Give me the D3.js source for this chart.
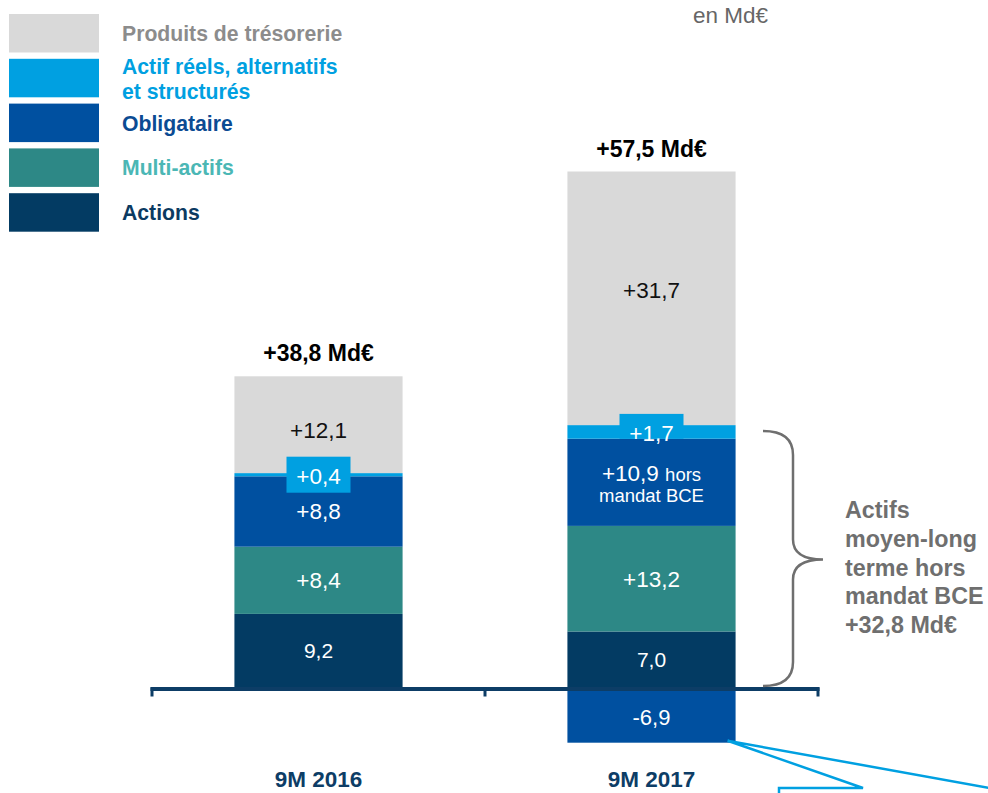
<!DOCTYPE html>
<html><head><meta charset="utf-8">
<script src="https://cdn.jsdelivr.net/npm/d3@7"></script>
<style>
body{margin:0;background:#fff}
svg{display:block}
text{font-family:"Liberation Sans",Arial,Helvetica,sans-serif}
</style>
</head><body>
<svg id="chart" width="988" height="793"></svg>
<script>
// ---------- data ----------
const categories = ["9M 2016", "9M 2017"];
const seriesNames = ["Actions", "Multi-actifs", "Obligataire", "Actif réels, alternatifs et structurés", "Produits de trésorerie"];
const actions     = [9.2, 7.0];
const multiActifs = [8.4, 13.2];
const obligataire = [8.8, 10.9];
const actifsReels = [0.4, 1.7];
const tresorerie  = [12.1, 31.7];
const mandatBCE   = [0, -6.9];          // negative part (mandat BCE), 9M 2017 only
const totals      = [38.8, 57.5];
const bracketTotal = 32.8;
const unitLabel = "en Md€";
const bracketLines = ["Actifs", "moyen-long", "terme hors", "mandat BCE"];
const legendOrder = ["Produits de trésorerie", "Actif réels, alternatifs et structurés", "Obligataire", "Multi-actifs", "Actions"];
const legendLines = [["Produits de trésorerie"], ["Actif réels, alternatifs", "et structurés"], ["Obligataire"], ["Multi-actifs"], ["Actions"]];

// ---------- style ----------
const fill = {
  "Actions": "#033b63",
  "Multi-actifs": "#2d8886",
  "Obligataire": "#0050a0",
  "Actif réels, alternatifs et structurés": "#00a0e1",
  "Produits de trésorerie": "#d9d9d9"
};
const legendTextColor = {
  "Actions": "#0b3a61",
  "Multi-actifs": "#4bb7b5",
  "Obligataire": "#0b4b93",
  "Actif réels, alternatifs et structurés": "#00a0e1",
  "Produits de trésorerie": "#8c8c8c"
};
const axisColor = "#0d3d66";
const gray = "#6f6f6f";

const svg = d3.select("#chart");

// ---------- scales ----------
const x = d3.scaleBand().domain(categories).range([152, 818]).padding(0);
const barW = x.bandwidth() * 0.505;
const y = d3.scaleLinear().domain([-8, 66]).range([687.5 + 64, 687.5 - 528]);

const table = categories.map((c, i) => ({
  cat: c,
  "Actions": actions[i],
  "Multi-actifs": multiActifs[i],
  "Obligataire": obligataire[i],
  "Actif réels, alternatifs et structurés": actifsReels[i],
  "Produits de trésorerie": tresorerie[i]
}));
const stacked = d3.stack().keys(seriesNames)(table);

const fmt = (v, sign) => (v < 0 ? "-" : (sign ? "+" : "")) + d3.format(".1f")(Math.abs(v)).replace(".", ",");

// ---------- bars ----------
const gBars = svg.append("g");
stacked.forEach(layer => {
  gBars.selectAll(null).data(layer).enter().append("rect")
    .attr("x", d => x(d.data.cat) + (x.bandwidth() - barW) / 2)
    .attr("width", barW)
    .attr("y", d => y(d[1]))
    .attr("height", d => y(d[0]) - y(d[1]))
    .attr("fill", fill[layer.key]);
});
// negative part (mandat BCE)
gBars.selectAll(null).data(categories.map((c, i) => ({cat: c, v: mandatBCE[i]})).filter(d => d.v < 0))
  .enter().append("rect")
  .attr("x", d => x(d.cat) + (x.bandwidth() - barW) / 2)
  .attr("width", barW)
  .attr("y", y(0))
  .attr("height", d => y(d.v) - y(0))
  .attr("fill", fill["Obligataire"]);

// ---------- value labels ----------
const gLab = svg.append("g").attr("text-anchor", "middle");
stacked.forEach(layer => {
  layer.forEach((d, i) => {
    const cx = x(d.data.cat) + x.bandwidth() / 2;
    let cy = (y(d[0]) + y(d[1])) / 2;
    const v = d[1] - d[0];
    const key = layer.key;
    if (key === "Actif réels, alternatifs et structurés") {
      const bTop = cy - 18;
      const h = i === 0 ? 36 : y(d[0]) - bTop;
      gLab.append("rect").attr("x", cx - 32).attr("y", bTop).attr("width", 64).attr("height", h)
        .attr("fill", fill[key]);
      gLab.append("text").attr("x", cx).attr("y", cy + 1.5).attr("dy", "0.35em")
        .attr("font-size", 22.5).attr("fill", "#fff").text(fmt(v, true));
    } else if (key === "Obligataire" && mandatBCE[i] < 0) {
      const t = gLab.append("text").attr("x", cx).attr("y", cy - 9.5).attr("dy", "0.35em")
        .attr("font-size", 22.5).attr("fill", "#fff");
      t.append("tspan").text(fmt(v, true) + " ");
      t.append("tspan").attr("font-size", 18.5).text("hors");
      gLab.append("text").attr("x", cx).attr("y", cy + 13).attr("dy", "0.35em")
        .attr("font-size", 18.5).attr("fill", "#fff").text("mandat BCE");
    } else {
      if (key === "Produits de trésorerie") cy += (i === 0 ? 5 : -8);
      gLab.append("text").attr("x", cx).attr("y", cy).attr("dy", "0.35em")
        .attr("font-size", key === "Actions" ? 21 : 22.5)
        .attr("fill", key === "Produits de trésorerie" ? "#111" : "#fff")
        .text(fmt(v, key !== "Actions"));
    }
  });
});
categories.forEach((c, i) => {
  if (mandatBCE[i] < 0) {
    gLab.append("text").attr("x", x(c) + x.bandwidth() / 2).attr("y", (y(0) + y(mandatBCE[i])) / 2 + 2)
      .attr("dy", "0.35em").attr("font-size", 22).attr("fill", "#fff").text(fmt(mandatBCE[i], false));
  }
});

// totals
const topLayer = stacked[stacked.length - 1];
svg.append("g").selectAll("text").data(topLayer).enter().append("text")
  .attr("x", d => x(d.data.cat) + x.bandwidth() / 2)
  .attr("y", d => y(d[1]) - 15)
  .attr("text-anchor", "middle").attr("font-weight", "bold").attr("font-size", 23).attr("fill", "#000")
  .text((d, i) => fmt(totals[i], true) + " Md€");

// ---------- axis ----------
const ax = svg.append("g");
const x0 = x.range()[0], x1 = x.range()[1];
ax.append("line").attr("x1", x0 - 1.5).attr("x2", x1 + 1.5).attr("y1", y(0) + 1.5).attr("y2", y(0) + 1.5)
  .attr("stroke", axisColor).attr("stroke-width", 4);
const boundaries = categories.map(c => x(c)).concat([x1]);
ax.selectAll(".tick").data(boundaries).enter().append("line")
  .attr("x1", d => d).attr("x2", d => d).attr("y1", y(0)).attr("y2", y(0) + 9)
  .attr("stroke", axisColor).attr("stroke-width", 3);
ax.selectAll(".cat").data(categories).enter().append("text")
  .attr("x", d => x(d) + x.bandwidth() / 2).attr("y", 787)
  .attr("text-anchor", "middle").attr("font-weight", "bold").attr("font-size", 22.5).attr("fill", axisColor)
  .text(d => d);

// ---------- legend ----------
const lg = svg.append("g");
legendOrder.forEach((k, i) => {
  const sTop = 14 + i * 44.8;
  lg.append("rect").attr("x", 9).attr("y", sTop).attr("width", 90).attr("height", 38.5).attr("fill", fill[k]);
  const lines = legendLines[i];
  const cy = sTop + 19;
  lines.forEach((ln, j) => {
    const by = lines.length === 1 ? cy + 8 : cy - 4 + j * 25;
    lg.append("text").attr("x", 122).attr("y", by).attr("font-weight", "bold").attr("font-size", 21.2)
      .attr("fill", legendTextColor[k]).text(ln);
  });
});

// unit
svg.append("text").attr("x", 693).attr("y", 23).attr("font-size", 22.5).attr("fill", "#666").text(unitLabel);

// ---------- bracket ----------
const bx = 763, bs = 793, bp = 823;
const brTop = y(bracketTotal) + 6, brBot = y(0) - 1.5;
const brMid = (brTop + brBot) / 2 + 1;
const bPath = `M${bx},${brTop} Q${bs},${brTop} ${bs},${brTop + 24} L${bs},${brMid - 20} Q${bs},${brMid} ${bp},${brMid}` +
  ` Q${bs},${brMid} ${bs},${brMid + 20} L${bs},${brBot - 24} Q${bs},${brBot} ${bx},${brBot}`;
svg.append("path").attr("d", bPath).attr("fill", "none").attr("stroke", gray).attr("stroke-width", 2.5);
const bt = svg.append("g");
bracketLines.concat([fmt(bracketTotal, true) + " Md€"]).forEach((ln, j) => {
  bt.append("text").attr("x", 845).attr("y", 518 + j * 28.8).attr("font-weight", "bold").attr("font-size", 23.3)
    .attr("fill", gray).text(ln);
});

// ---------- callout lines ----------
const negX = x(categories[1]) + (x.bandwidth() + barW) / 2 - 8;
const negY = y(mandatBCE[1]) - 2;
svg.append("path")
  .attr("d", `M779,800 L779,788 L863,788 L${negX},${negY} L995,789`)
  .attr("fill", "none").attr("stroke", "#00a0e1").attr("stroke-width", 2.5).attr("stroke-linejoin", "miter");
</script>
</body></html>
